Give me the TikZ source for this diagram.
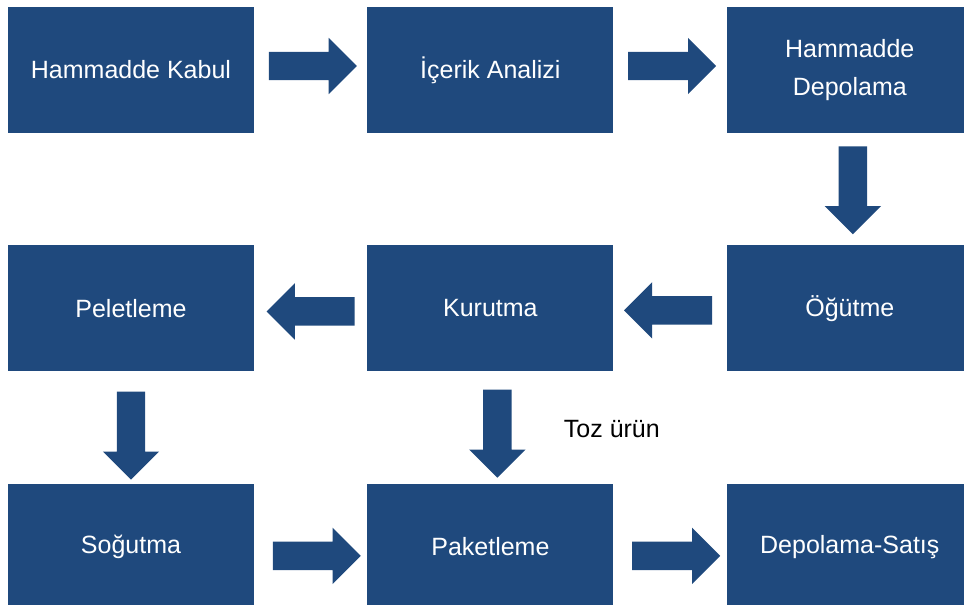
\documentclass[tikz,border=0pt]{standalone}
\usepackage{fontspec}
\setmainfont{Liberation Sans}
\usetikzlibrary{positioning,shapes.arrows}
\definecolor{boxblue}{RGB}{31,73,125}

\begin{document}
\begin{tikzpicture}[
    node distance=112pt and 113pt,
    block/.style={rectangle, fill=boxblue, text=white, minimum width=246pt, minimum height=126pt, align=center, font=\fontsize{25}{38}\selectfont},
    flow/.style={single arrow, fill=boxblue, minimum height=88pt, inner xsep=0pt, inner ysep=14pt, single arrow head extend=14pt, single arrow head indent=0pt},
    note/.style={font=\fontsize{25}{30}\selectfont}
]
\useasboundingbox (0,0) rectangle (964pt,-605pt);
\clip (0,0) rectangle (964pt,-605pt);
\node[block] (b1) at (131pt,-70pt) {Hammadde Kabul};
\node[block, right=of b1] (b2) {İçerik Analizi};
\node[block, right=of b2] (b3) {Hammadde\\Depolama};
\node[block, below=of b3] (b6) {Öğütme};
\node[block, left=of b6] (b5) {Kurutma};
\node[block, left=of b5] (b4) {Peletleme};
\node[block, below=of b4] (b7) {Soğutma};
\node[block, right=of b7] (b8) {Paketleme};
\node[block, right=of b8] (b9) {Depolama-Satış};
\node[note, anchor=west] (toz) at ([xshift=70pt,yshift=-57pt]b5.south) {Toz ürün};

% akis oklari
\path (b1) -- node[flow, xshift=-5pt, yshift=4pt] (a12) {} (b2);
\path (b2) -- node[flow, xshift=-5pt, yshift=4pt] (a23) {} (b3);
\path (b3) -- node[flow, xshift=3pt, yshift=6pt, rotate=-90] (a36) {} (b6);
\path (b6) -- node[flow, xshift=5pt, yshift=-2pt, rotate=180] (a65) {} (b5);
\path (b5) -- node[flow, xshift=7pt, yshift=-3pt, rotate=180] (a54) {} (b4);
\path (b4) -- node[flow, yshift=-1pt, rotate=-90] (a47) {} (b7);
\path (b5) -- node[flow, xshift=7pt, yshift=1pt, rotate=-90] (a58) {} (b8);
\path (b7) -- node[flow, xshift=-1pt, yshift=-9pt] (a78) {} (b8);
\path (b8) -- node[flow, xshift=-1pt, yshift=-9pt] (a89) {} (b9);
\end{tikzpicture}
\end{document}
